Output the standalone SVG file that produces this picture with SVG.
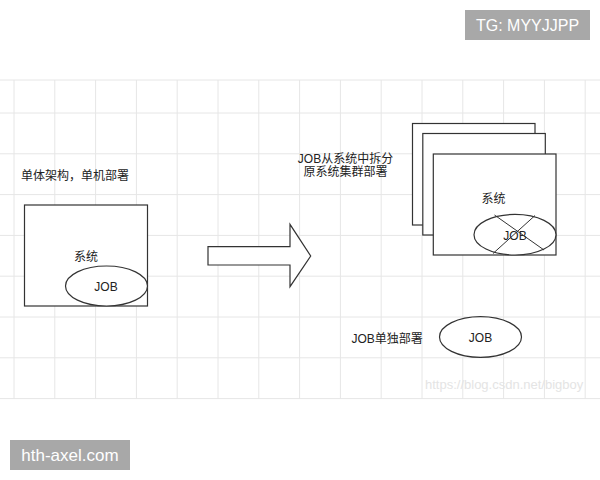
<svg xmlns="http://www.w3.org/2000/svg" width="600" height="480" viewBox="0 0 600 480">
<style>
.grid{stroke:#e6e6e6;stroke-width:1;fill:none}
.shape{fill:#fff;stroke:#333;stroke-width:1.2}
.line{stroke:#333;stroke-width:1;fill:none}
.t{font-family:"Liberation Sans","Noto Sans CJK SC",sans-serif;font-size:12px;fill:#222}
.badge{fill:#a8a8a8}
.bt{font-family:"Liberation Sans","Noto Sans CJK SC",sans-serif;fill:#fff}
.wm{font-family:"Liberation Sans",sans-serif;font-size:13px;fill:#e4e4e4}
</style>
<rect x="0" y="0" width="600" height="480" fill="#fff"/>
<g id="grid">
<path class="grid" d="M0 80H600M0 113H600M0 153.8H600M0 194.6H600M0 235.4H600M0 276.2H600M0 317H600M0 357.8H600M0 398.6H600"/>
<path class="grid" d="M14 80V399M54.8 80V399M95.6 80V399M136.4 80V399M177.2 80V399M218 80V399M258.8 80V399M299.6 80V399M340.4 80V399M381.2 80V399M422 80V399M462.8 80V399M503.6 80V399M544.4 80V399M585.2 80V399"/>
</g>
<g id="badge-tg">
<rect class="badge" x="465" y="10" width="125" height="30"/>
<text class="bt" x="527.5" y="31" font-size="16" text-anchor="middle">TG: MYYJJPP</text>
</g>
<g id="badge-site">
<rect class="badge" x="10" y="440" width="120" height="30"/>
<text class="bt" x="70" y="461" font-size="17" text-anchor="middle">hth-axel.com</text>
</g>
<g id="label-mono">
<text class="t" x="21" y="180">单体架构，单机部署</text>
</g>
<g id="mono-system">
<rect class="shape" x="24.5" y="205" width="123" height="101"/>
<text class="t" x="86" y="261" text-anchor="middle">系统</text>
<ellipse class="shape" cx="106.5" cy="286" rx="41" ry="20"/>
<text class="t" x="106" y="291" text-anchor="middle">JOB</text>
</g>
<g id="connectors">
<path class="shape" d="M208 246.7H290V224.3L310.7 256L290 286.7V265H208Z"/>
</g>
<g id="label-split">
<text class="t" x="345.5" y="163" text-anchor="middle">JOB从系统中拆分</text>
<text class="t" x="345.5" y="176" text-anchor="middle">原系统集群部署</text>
</g>
<g id="cluster-back">
<rect class="shape" x="412.5" y="123.5" width="122.5" height="101.5"/>
</g>
<g id="cluster-mid">
<rect class="shape" x="422.8" y="133.5" width="122.5" height="101.5"/>
</g>
<g id="cluster-front">
<rect class="shape" x="433.3" y="154" width="122.7" height="101"/>
<text class="t" x="493.5" y="203" text-anchor="middle">系统</text>
<ellipse class="shape" cx="515" cy="234.7" rx="41" ry="20.3"/>
<text class="t" x="515" y="240" text-anchor="middle" fill="#666">JOB</text>
<path class="line" d="M494.5 215L544 250M535 215.5L493 253.5"/>
</g>
<g id="label-alone">
<text class="t" x="351.5" y="342.5">JOB单独部署</text>
</g>
<g id="job-alone">
<ellipse class="shape" cx="480.5" cy="337" rx="41" ry="20.3"/>
<text class="t" x="480.5" y="342" text-anchor="middle">JOB</text>
</g>
<text class="wm" x="425" y="389">https://blog.csdn.net/bigboy</text>
</svg>
